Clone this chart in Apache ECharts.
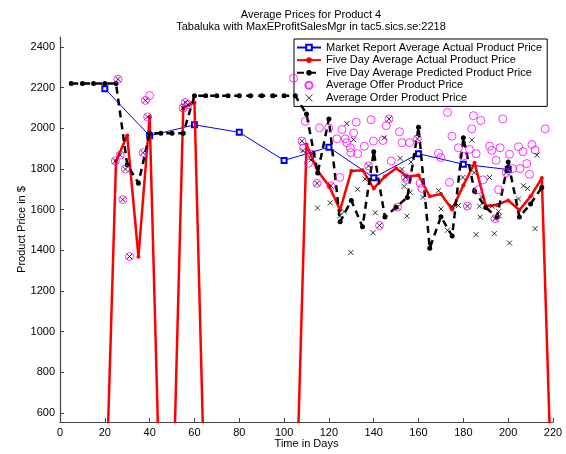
<!DOCTYPE html>
<html>
<head>
<meta charset="utf-8">
<script src="https://cdn.jsdelivr.net/npm/echarts@6/dist/echarts.min.js"></script>
<style>
  html, body { margin: 0; padding: 0; background: #fff; }
  #chart { width: 566px; height: 454px; }
</style>
</head>
<body>
<div id="chart"></div>
<script>
// market report (every 20 days)
const reportDays = [20, 40, 60, 80, 100, 120, 140, 160, 180, 200];
const reportPrices = [2195, 1963, 2017, 1980, 1842, 1907, 1757, 1875, 1823, 1797];

// five day average actual price (0 where nothing was sold)
const actualDays = [0, 5, 10, 15, 20, 25, 30, 35, 40, 45, 50, 55, 60, 65, 70, 75, 80, 85, 90, 95, 100, 105,
  110, 115, 120, 125, 130, 135, 140, 145, 150, 155, 160, 165, 170, 175, 180, 185, 190, 195, 200, 205, 210, 215, 220];
const actualPrices = [0, 0, 0, 0, 0, 1839, 1964, 1368, 2056, 0, 0, 2100, 2127, 0, 0, 0, 0, 0, 0, 0, 0, 0,
  1920, 1790, 1717, 1598, 1790, 1794, 1704, 1763, 1803, 1763, 1769, 1665, 1677, 1600, 1720, 1830, 1618, 1623, 1645, 1598, 1665, 1755, 0];

// five day average predicted price
const predDays = [5, 10, 15, 20, 25, 30, 35, 40, 45, 50, 55, 60, 65, 70, 75, 80, 85, 90, 95, 100, 105,
  110, 115, 120, 125, 130, 135, 140, 145, 150, 155, 160, 165, 170, 175, 180, 185, 190, 195, 200, 205, 210, 215];
const predPrices = [2220, 2220, 2220, 2220, 2220, 1820, 1730, 1975, 1975, 1975, 1975, 2160, 2160, 2160, 2160, 2160, 2160, 2160, 2160, 2160, 2160,
  2070, 1780, 2045, 1540, 1645, 1515, 1885, 1563, 1612, 1660, 2005, 1410, 1565, 1470, 1953, 1690, 1610, 1563, 1834, 1563, 1628, 1709];

// average offer prices
const offerDays = [25.9, 24.7, 26.9, 29.2, 28, 31, 38.1, 40, 39.1, 37.1, 54.9, 55.9, 57.1,
  104.2, 109.5, 108, 108.7, 110.9, 112.4, 115.8, 119.9, 125.8, 123.6, 127.3, 128, 129.5, 131, 129.8, 132.8, 132.2,
  138.8, 135.8, 139.9, 144.1, 145.6, 146.8, 151.5, 152.6, 156, 159.5, 124.8, 114.7, 120.9, 137.7, 147.8, 154.1,
  155.1, 160.7, 150.6, 142.6, 172.9, 184.5, 187.8, 197.6, 216.5, 183.8, 174.9, 177.8, 182.7, 185.7, 191.7, 192.7,
  196.4, 200.6, 204.6, 206.6, 210.6, 212, 194.6, 208.3, 205.3, 202, 199.1, 209.5, 179.8, 168.9, 169.9, 173.8,
  186.7, 195.7, 188.7, 181.8, 194.2, 161.5];
const offerPrices = [2241, 1839, 1868, 1799, 1649, 1369, 2137, 2161, 2056, 1880, 2100, 2127, 2116,
  2246, 2034, 1937, 1904, 1828, 1872, 2002, 2002, 1994, 1948, 1948, 1929, 1904, 1977, 1880, 1875, 2030,
  2042, 1912, 1937, 1940, 2013, 2046, 1983, 1929, 1929, 1948, 1758, 1729, 1717, 1815, 1839, 1758,
  1746, 1730, 1612, 1522, 2078, 2062, 2038, 2046, 1997, 1997, 1961, 1904, 1896, 1875, 1912, 1891,
  1904, 1872, 1909, 1885, 1920, 1893, 1842, 1826, 1802, 1802, 1782, 1774, 1863, 1877, 1856, 1734,
  1698, 1698, 1746, 1617, 1555, 1704];

// average order prices
const orderDays = [25.9, 24.7, 26.9, 29.2, 28, 31, 38.1, 39.1, 37.1, 54.9, 55.9, 57.1,
  108, 112.4, 114.7, 120.9, 137.7, 146.8, 159.5, 154.1, 150.6, 142.6, 199.1, 181.8, 194.2,
  128, 131, 144.7, 151.8, 152.6, 156.6, 153.6, 156.3, 162, 132.8, 136.1, 120.6, 124.8, 114.9, 126.8,
  129.8, 140.7, 139.7, 154.8, 112, 183.8, 179.8, 184.8, 191.7, 212.8, 168.9, 206.8, 208.6, 204.6,
  188.3, 187.2, 192.7, 195.7, 177.8, 174.9, 170, 172.9, 187.5, 196.1, 185.7, 193.8, 200.6, 212, 108.4];
const orderPrices = [2241, 1839, 1868, 1799, 1649, 1369, 2137, 2056, 1880, 2100, 2127, 2116,
  1937, 1872, 1729, 1717, 1815, 2046, 1948, 1758, 1612, 1522, 1782, 1617, 1555,
  2023, 1944, 1953, 1852, 1798, 1834, 1714, 1685, 1660, 1700, 1750, 1633, 1568, 1608, 1590,
  1389, 1584, 1486, 1568, 1844, 1942, 1758, 1782, 1758, 1868, 1693, 1717, 1704, 1652,
  1660, 1617, 1617, 1590, 1620, 1617, 1603, 1498, 1563, 1568, 1477, 1482, 1436, 1506, 1890];

const yTicks = [600, 800, 1000, 1200, 1400, 1600, 1800, 2000, 2200, 2400];

const zip = (xs, ys) => xs.map((x, i) => [x, ys[i]]);
const font = 'Liberation Sans, Arial, Helvetica, sans-serif';
const crossPath = 'path://M0,0L10,10M10,0L0,10';

const chart = echarts.init(document.getElementById('chart'), null, { renderer: 'canvas' });
chart.setOption({
  animation: false,
  backgroundColor: '#fff',
  textStyle: { fontFamily: font },
  title: {
    text: 'Average Prices for Product 4',
    subtext: 'Tabaluka with MaxEProfitSalesMgr in tac5.sics.se:2218',
    left: 306,
    textAlign: 'center',
    top: 4,
    itemGap: 1,
    textStyle: { fontSize: 11, fontWeight: 'normal', color: '#000', fontFamily: font },
    subtextStyle: { fontSize: 11, color: '#000', fontFamily: font }
  },
  legend: {
    orient: 'vertical',
    left: 294,
    top: 39,
    backgroundColor: '#fff',
    borderColor: '#000',
    borderWidth: 1,
    borderRadius: 0,
    padding: [3, 5, 3, 2],
    itemWidth: 24,
    itemHeight: 7,
    itemGap: 1.6,
    textStyle: { fontSize: 11, lineHeight: 11, color: '#000', fontFamily: font },
    data: [
      'Market Report Average Actual Product Price',
      'Five Day Average Actual Product Price',
      'Five Day Average Predicted Product Price',
      'Average Offer Product Price',
      { name: 'Average Order Product Price', icon: crossPath, itemStyle: { borderWidth: 1 } }
    ]
  },
  grid: { left: 60, right: 13, top: 37, bottom: 29, containLabel: false },
  xAxis: {
    type: 'value',
    min: 0,
    max: 220,
    interval: 20,
    name: 'Time in Days',
    nameLocation: 'middle',
    nameGap: 16,
    nameMoveOverlap: false,
    nameTextStyle: { fontSize: 11, color: '#000' },
    axisLine: { show: true, lineStyle: { color: '#444', width: 1.2 } },
    axisTick: { show: true, inside: true, length: 4, lineStyle: { color: '#444' } },
    axisLabel: { fontSize: 11, color: '#000', margin: 5, showMinLabel: true, showMaxLabel: true },
    splitLine: { show: false }
  },
  yAxis: {
    type: 'value',
    min: 555,
    max: 2449,
    name: 'Product Price in $',
    nameLocation: 'middle',
    nameGap: 33,
    nameMoveOverlap: false,
    nameTextStyle: { fontSize: 11, color: '#000' },
    axisLine: { show: true, lineStyle: { color: '#444', width: 1.2 } },
    axisTick: { show: true, inside: true, length: 4, customValues: yTicks, lineStyle: { color: '#444' } },
    axisLabel: { fontSize: 11, color: '#000', margin: 5, customValues: yTicks, formatter: v => String(v) },
    splitLine: { show: false }
  },
  series: [
    {
      name: 'Market Report Average Actual Product Price',
      type: 'line',
      data: zip(reportDays, reportPrices),
      symbol: 'emptyRect',
      symbolSize: 5,
      lineStyle: { color: '#0000ff', width: 1 },
      itemStyle: { color: '#0000ff', borderWidth: 1 },
      z: 2
    },
    {
      name: 'Five Day Average Actual Product Price',
      type: 'line',
      data: zip(actualDays, actualPrices),
      symbol: 'circle',
      symbolSize: 4,
      clip: true,
      lineStyle: { color: '#ff0000', width: 2.5 },
      itemStyle: { color: '#ff0000' },
      z: 3
    },
    {
      name: 'Five Day Average Predicted Product Price',
      type: 'line',
      data: zip(predDays, predPrices),
      symbol: 'circle',
      symbolSize: 5,
      lineStyle: { color: '#000', width: 2.5, type: [7, 5] },
      itemStyle: { color: '#000' },
      z: 4
    },
    {
      name: 'Average Offer Product Price',
      type: 'scatter',
      data: zip(offerDays, offerPrices),
      symbol: 'circle',
      symbolSize: 8,
      itemStyle: { color: 'transparent', borderColor: '#ff00ff', borderWidth: 1 },
      z: 5
    },
    {
      name: 'Average Order Product Price',
      type: 'scatter',
      data: zip(orderDays, orderPrices),
      symbol: crossPath,
      symbolSize: 5,
      itemStyle: { color: 'transparent', borderColor: '#000', borderWidth: 1 },
      z: 6
    }
  ]
});
</script>
</body>
</html>
